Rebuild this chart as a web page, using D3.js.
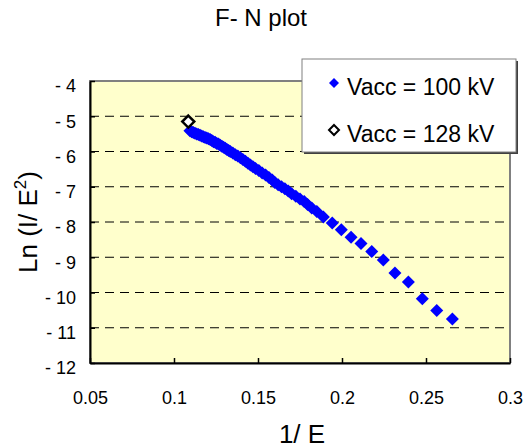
<!DOCTYPE html>
<html>
<head>
<meta charset="utf-8">
<script src="https://cdn.jsdelivr.net/npm/d3@7"></script>
<style>
  body { margin: 0; background: #fff; }
  text { font-family: "Liberation Sans", Arial, sans-serif; fill: #000; }
</style>
</head>
<body>
<svg class="chart"></svg>
<script>
// 1/E values and Ln(I/E^2) for the 100 kV run
var invE100 = [
  0.1095, 0.1105, 0.1115, 0.1125, 0.1135, 0.1145, 0.1155, 0.1165, 0.1175, 0.1185,
  0.1195, 0.1205, 0.1215, 0.1225, 0.1235, 0.1245, 0.1255, 0.1265, 0.1275, 0.1285,
  0.1295, 0.1305, 0.1315, 0.1325, 0.1335, 0.1350, 0.1365, 0.1380, 0.1395, 0.1410,
  0.1425, 0.1440, 0.1455, 0.1470, 0.1485, 0.1505, 0.1525, 0.1545, 0.1565, 0.1585,
  0.1600, 0.1620, 0.1640, 0.1660, 0.1680, 0.1700, 0.1725, 0.1750, 0.1775, 0.1795,
  0.1820, 0.1850, 0.1889, 0.1942, 0.1996, 0.2054, 0.2113, 0.2177, 0.2246, 0.2315,
  0.2395, 0.2478, 0.2564, 0.2657
];
var lnIE100 = [
  -5.41, -5.44, -5.46, -5.48, -5.50, -5.52, -5.54, -5.56, -5.58, -5.60,
  -5.62, -5.64, -5.66, -5.69, -5.72, -5.74, -5.77, -5.79, -5.82, -5.85,
  -5.88, -5.91, -5.94, -5.97, -6.00, -6.04, -6.09, -6.13, -6.18, -6.23,
  -6.28, -6.33, -6.38, -6.43, -6.48, -6.54, -6.61, -6.67, -6.74, -6.81,
  -6.88, -6.94, -7.00, -7.06, -7.12, -7.20, -7.27, -7.35, -7.42, -7.50,
  -7.60, -7.70, -7.86, -8.03, -8.22, -8.43, -8.61, -8.84, -9.08, -9.45,
  -9.70, -10.18, -10.51, -10.75
];
// the single 128 kV point
var invE128 = [0.1085];
var lnIE128 = [-5.15];

var xTicks = [0.05, 0.1, 0.15, 0.2, 0.25, 0.3];
var yTicks = [-4, -5, -6, -7, -8, -9, -10, -11, -12];
var seriesNames = ['Vacc = 100 kV', 'Vacc = 128 kV'];

var width = 531;
var height = 448;
var plot = {left: 90, top: 81, right: 510, bottom: 363};

var svg = d3.select('.chart').attr('width', width).attr('height', height);

var x = d3.scaleLinear().domain([0.05, 0.3]).range([plot.left, plot.right]);
var y = d3.scaleLinear().domain([-12, -4]).range([plot.bottom, plot.top]);

// rotated square, like the excel marker
function diamond(h) {
  return 'M0,' + (-h) + 'L' + h + ',0L0,' + h + 'L' + (-h) + ',0Z';
}

svg.append('text')
    .attr('x', 261)
    .attr('y', 26)
    .attr('text-anchor', 'middle')
    .style('font-size', '24px')
    .text('F- N plot');

// plot area
svg.append('rect')
    .attr('x', plot.left)
    .attr('y', plot.top)
    .attr('width', plot.right - plot.left)
    .attr('height', plot.bottom - plot.top)
    .style('fill', '#ffffcc')
    .style('stroke', '#808080')
    .style('stroke-width', 2);

svg.append('g')
    .selectAll('line')
    .data(yTicks.filter(d => d > -12 && d < -4))
    .join('line')
    .attr('x1', plot.left)
    .attr('x2', plot.right)
    .attr('y1', d => y(d))
    .attr('y2', d => y(d))
    .style('stroke', '#000')
    .style('stroke-width', 1)
    .style('stroke-dasharray', '9,6');

var yAxis = d3.axisLeft(y)
    .tickValues(yTicks)
    .tickSizeInner(-5)
    .tickSizeOuter(0)
    .tickPadding(14)
    .tickFormat(d => d < 0 ? '- ' + Math.abs(d) : d);

var xAxis = d3.axisBottom(x)
    .tickValues(xTicks)
    .tickSizeInner(-5)
    .tickSizeOuter(0)
    .tickPadding(28)
    .tickFormat(d => d3.format('')(d));

var gy = svg.append('g')
    .attr('transform', 'translate(' + plot.left + ',0)')
    .call(yAxis);
gy.selectAll('text')
    .attr('dy', '0.6em')
    .style('font-size', '18px')
    .style('font-family', '"Liberation Sans", Arial, sans-serif');

var gx = svg.append('g')
    .attr('transform', 'translate(0,' + plot.bottom + ')')
    .call(xAxis);
gx.selectAll('text')
    .style('font-size', '18px')
    .style('font-family', '"Liberation Sans", Arial, sans-serif');

svg.selectAll('.domain').style('stroke', '#000').style('stroke-width', 2);
svg.selectAll('.tick line').style('stroke', '#000').style('stroke-width', 1.5);

// 100 kV series
svg.append('g')
    .selectAll('path')
    .data(invE100.map((d, i) => [d, lnIE100[i]]))
    .join('path')
    .attr('transform', d => 'translate(' + x(d[0]) + ',' + y(d[1]) + ')')
    .attr('d', diamond(6.5))
    .style('fill', '#0000ff');

// 128 kV series
svg.append('g')
    .selectAll('path')
    .data(invE128.map((d, i) => [d, lnIE128[i]]))
    .join('path')
    .attr('transform', d => 'translate(' + x(d[0]) + ',' + y(d[1]) + ')')
    .attr('d', diamond(6))
    .style('fill', '#fff')
    .style('stroke', '#000')
    .style('stroke-width', 2.5);

// axis titles
svg.append('text')
    .attr('x', 302)
    .attr('y', 443)
    .attr('text-anchor', 'middle')
    .style('font-size', '26px')
    .text('1/ E');

var yTitle = svg.append('text')
    .attr('transform', 'translate(37,222) rotate(-90)')
    .attr('text-anchor', 'middle')
    .style('font-size', '26px');
yTitle.append('tspan').text('Ln (I/ E');
yTitle.append('tspan').attr('dy', -11).style('font-size', '17px').text('2');
yTitle.append('tspan').attr('dy', 11).text(')');

// legend
var legend = svg.append('g');
legend.append('rect')
    .attr('x', 304)
    .attr('y', 61)
    .attr('width', 214)
    .attr('height', 93)
    .style('fill', '#404040');
legend.append('rect')
    .attr('x', 302)
    .attr('y', 59)
    .attr('width', 214)
    .attr('height', 93)
    .style('fill', '#fff')
    .style('stroke', '#808080')
    .style('stroke-width', 1);

var entries = legend.selectAll('g.entry')
    .data(seriesNames)
    .join('g')
    .attr('class', 'entry')
    .attr('transform', (d, i) => 'translate(334,' + (83 + i * 47) + ')');

entries.append('path')
    .attr('d', diamond(5))
    .style('fill', (d, i) => i === 0 ? '#0000ff' : '#fff')
    .style('stroke', (d, i) => i === 0 ? 'none' : '#000')
    .style('stroke-width', 2);

entries.append('text')
    .attr('x', 13)
    .attr('y', 12)
    .style('font-size', '23px')
    .text(d => d);
</script>
</body>
</html>
